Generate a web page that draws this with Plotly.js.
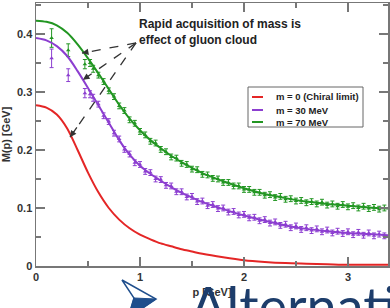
<!DOCTYPE html>
<html><head><meta charset="utf-8">
<script src="https://cdn.plot.ly/plotly-3.0.1.min.js"></script>
<style>html,body{margin:0;padding:0;background:#fff;}#chart{width:390px;height:308px;}</style>
</head><body><div id="chart"></div>
<script>
// Curves (fits)
const curveP = [0,0.1,0.2,0.3,0.4,0.5,0.6,0.7,0.8,0.9,1.0,1.1,1.2,1.3,1.4,1.5,1.6,1.8,2.0,2.2,2.4,2.6,2.8,3.0,3.2,3.4];
const redM   = [0.277,0.273,0.261,0.237,0.200,0.161,0.127,0.100,0.080,0.065,0.054,0.046,0.039,0.034,0.029,0.025,0.021,0.015,0.010,0.007,0.005,0.004,0.003,0.002,0.002,0.002];
const purpleM= [0.393,0.389,0.379,0.362,0.336,0.307,0.277,0.247,0.217,0.192,0.173,0.159,0.147,0.136,0.126,0.118,0.110,0.098,0.087,0.078,0.070,0.064,0.060,0.057,0.055,0.053];
const greenM = [0.423,0.421,0.415,0.402,0.382,0.358,0.332,0.305,0.278,0.254,0.234,0.217,0.203,0.190,0.179,0.169,0.160,0.146,0.134,0.124,0.117,0.111,0.107,0.104,0.101,0.099];

// Lattice data points
const dataP = [0.15,0.31,0.47,0.52,0.55,0.60,0.65,0.70,0.75,0.80,0.85,0.90,0.95,1.00,1.05,1.10,1.15,1.20,1.25,1.30,1.35,1.40,1.45,1.50,1.55,1.60,1.65,1.70,1.75,1.80,1.85,1.90,1.95,2.00,2.05,2.10,2.15,2.20,2.25,2.30,2.35,2.40,2.45,2.50,2.55,2.60,2.65,2.70,2.75,2.80,2.85,2.90,2.95,3.00,3.05,3.10,3.15,3.20,3.25,3.30,3.35];
const greenData = [0.393,0.372,0.348,0.350,0.340,0.329,0.318,0.302,0.292,0.276,0.268,0.252,0.246,0.232,0.226,0.215,0.212,0.201,0.197,0.188,0.186,0.177,0.175,0.167,0.166,0.158,0.157,0.151,0.150,0.144,0.144,0.138,0.138,0.132,0.132,0.127,0.127,0.122,0.123,0.118,0.120,0.115,0.116,0.112,0.113,0.109,0.111,0.107,0.110,0.105,0.107,0.103,0.106,0.102,0.104,0.100,0.103,0.099,0.101,0.098,0.100];
const purpleData = [0.358,0.329,0.298,0.296,0.290,0.279,0.259,0.249,0.229,0.219,0.201,0.193,0.178,0.175,0.163,0.161,0.150,0.149,0.139,0.138,0.128,0.128,0.119,0.120,0.111,0.112,0.104,0.106,0.099,0.100,0.093,0.094,0.088,0.089,0.083,0.084,0.078,0.080,0.074,0.076,0.070,0.072,0.066,0.069,0.063,0.066,0.061,0.064,0.059,0.062,0.057,0.060,0.056,0.059,0.054,0.058,0.053,0.057,0.052,0.055,0.052];
const dataErr = [0.016,0.011,0.008,0.006,0.006,0.005,0.005,0.005,0.005,0.005,0.005,0.005,0.005,0.005,0.005,0.005,0.005,0.005,0.005,0.005,0.005,0.005,0.005,0.005,0.005,0.005,0.005,0.005,0.005,0.005,0.005,0.005,0.005,0.005,0.005,0.005,0.005,0.005,0.005,0.005,0.005,0.005,0.005,0.005,0.005,0.005,0.005,0.005,0.005,0.005,0.005,0.005,0.005,0.005,0.005,0.005,0.005,0.005,0.005,0.005,0.005];

const seriesNames = ["m = 0 (Chiral limit)", "m = 30 MeV", "m = 70 MeV"];
const xTicks = [0,1,2,3];
const yTicks = [0,0.1,0.2,0.3,0.4];

const RED = "rgb(228,38,38)", PURPLE = "rgb(140,62,208)", GREEN = "rgb(34,150,34)";
const FONT = "Liberation Sans, Arial, sans-serif";

function dataTrace(y, color){
  return {x: dataP, y: y, type: "scatter", mode: "markers", showlegend: false,
    marker: {symbol: "triangle-up", size: 4, color: color},
    error_y: {type: "data", array: dataErr, visible: true, color: color, thickness: 1, width: 2}};
}
function curveTrace(y, color, name){
  return {x: curveP, y: y, type: "scatter", mode: "lines", name: name, showlegend: false,
    line: {color: color, width: 2, shape: "spline", smoothing: 0.8}};
}
const traces = [
  dataTrace(purpleData, PURPLE),
  dataTrace(greenData, GREEN),
  curveTrace(redM, RED, seriesNames[0]),
  curveTrace(purpleM, PURPLE, seriesNames[1]),
  curveTrace(greenM, GREEN, seriesNames[2])
];

// helpers to convert pixel placement into paper coords (plot area 36..388 x, 3..266 y)
const px = v => (v - 36) / 352;
const py = v => (266 - v) / 263;

const axisCommon = {
  showline: true, linecolor: "#777", linewidth: 1.5, mirror: "allticks",
  ticks: "inside", ticklen: 9, tickwidth: 1.5, tickcolor: "#777",
  showgrid: false, zeroline: false,
  tickfont: {family: FONT, size: 11, color: "#333", weight: "bold"}
};

const legendColors = [RED, PURPLE, GREEN];
const legendRows = [97, 110, 122];
const shapes = [
  {type: "rect", xref: "paper", yref: "paper", x0: px(248), x1: px(363), y0: py(127), y1: py(87),
   line: {color: "#666", width: 1}, fillcolor: "#fff", layer: "above"}
];
legendRows.forEach((r, i) => shapes.push({type: "line", xref: "paper", yref: "paper",
  x0: px(252), x1: px(263), y0: py(r), y1: py(r), line: {color: legendColors[i], width: 2}}));

// dashed arrows
const arrowStart = [0.962, 0.3845];
const arrowHeads = [[0.442, 0.367], [0.452, 0.321], [0.327, 0.222]];
arrowHeads.forEach(h => shapes.push({type: "line", xref: "x", yref: "y",
  x0: arrowStart[0], y0: arrowStart[1], x1: h[0], y1: h[1], line: {color: "#333", width: 1.3, dash: "dash"}}));

// slide overlay chevron
shapes.push({type: "path", xref: "paper", yref: "paper",
  path: `M ${px(122)} ${py(280)} L ${px(156)} ${py(299)} L ${px(128)} ${py(318)} L ${px(134)} ${py(298)} Z`,
  line: {color: "#1f4e8c", width: 1.5}, fillcolor: "#fff", layer: "above"});
shapes.push({type: "path", xref: "paper", yref: "paper",
  path: `M ${px(134)} ${py(298)} L ${px(156)} ${py(299)} L ${px(128)} ${py(318)} Z`,
  line: {color: "#1f4e8c", width: 1}, fillcolor: "#1f4e8c", layer: "above"});

const annotations = [
  {xref: "paper", yref: "paper", x: px(137), y: py(15), xanchor: "left", yanchor: "top", align: "left",
   showarrow: false, text: "Rapid acquisition of mass is<br>effect of gluon cloud",
   font: {family: FONT, size: 12, color: "#222", weight: "bold"}},
  {xref: "paper", yref: "paper", x: px(188), y: py(271), xanchor: "left", yanchor: "top",
   showarrow: false, text: "Alternatives",
   font: {family: "Lato, Open Sans, sans-serif", size: 54, color: "#1d3d6b"}}
];
arrowHeads.forEach(h => annotations.push({xref: "x", yref: "y", x: h[0], y: h[1],
  ax: h[0] + (arrowStart[0] - h[0]) * 0.12, ay: h[1] + (arrowStart[1] - h[1]) * 0.12,
  axref: "x", ayref: "y", showarrow: true, arrowhead: 2, arrowsize: 1, arrowwidth: 1.3, arrowcolor: "#333", text: ""}));
legendRows.forEach((r, i) => annotations.push({xref: "paper", yref: "paper", x: px(274), y: py(r),
  xanchor: "left", yanchor: "middle", showarrow: false, text: seriesNames[i],
  font: {family: FONT, size: 9.5, color: "#222", weight: "bold"}}));

const layout = {
  width: 390, height: 308,
  margin: {l: 36, r: 2, t: 3, b: 42},
  paper_bgcolor: "#fff", plot_bgcolor: "#fff",
  showlegend: false,
  xaxis: Object.assign({}, axisCommon, {range: [0, 3.385], tickvals: xTicks, ticktext: xTicks.map(String),
    minor: {dtick: 0.5, ticks: "inside", ticklen: 5, tickcolor: "#777", tickwidth: 1.5},
    title: {text: "p [GeV]", standoff: 6, font: {family: FONT, size: 11, color: "#333", weight: "bold"}}}),
  yaxis: Object.assign({}, axisCommon, {range: [0, 0.4534], tickvals: yTicks, ticktext: yTicks.map(String),
    minor: {dtick: 0.05, ticks: "inside", ticklen: 5, tickcolor: "#777", tickwidth: 1.5},
    title: {text: "M(p) [GeV]", standoff: 4, font: {family: FONT, size: 11, color: "#333", weight: "bold"}}}),
  shapes: shapes,
  annotations: annotations
};
Plotly.newPlot("chart", traces, layout, {displayModeBar: false, staticPlot: true});
</script></body></html>
